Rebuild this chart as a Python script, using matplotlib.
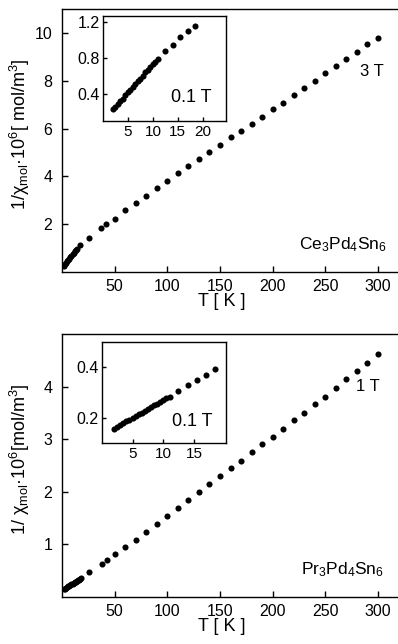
import matplotlib
matplotlib.use('Agg')
import matplotlib.pyplot as plt

plt.rcParams['font.family'] = ['Liberation Sans', 'DejaVu Sans']
plt.rcParams['mathtext.fontset'] = 'custom'
plt.rcParams['mathtext.rm'] = 'Liberation Sans'
plt.rcParams['mathtext.it'] = 'Liberation Sans:italic'

# Ce3Pd4Sn6, 3 T (main) and 0.1 T (inset)
ce_T = [2, 3, 4, 5, 6, 7, 8, 9, 10, 11, 12, 13, 14, 17.5, 25.6, 36.7, 42, 50, 60, 70, 80,
        90, 100, 110, 120, 130, 140, 150, 160, 170, 180, 190, 200, 210, 220, 230, 240,
        250, 260, 270, 280, 290, 300]
ce_inv = [0.26, 0.32, 0.38, 0.44, 0.50, 0.56, 0.62, 0.68, 0.74, 0.80, 0.86, 0.92, 0.98,
          1.14, 1.43, 1.83, 2.0, 2.2, 2.58, 2.89, 3.18, 3.5, 3.8, 4.12, 4.42, 4.74, 5.01,
          5.3, 5.64, 5.89, 6.2, 6.5, 6.82, 7.07, 7.39, 7.68, 7.99, 8.32, 8.6, 8.92, 9.22,
          9.53, 9.8]
ce_T_low = [2.0, 2.5, 3.0, 3.5, 4.0, 4.5, 5.0, 5.5, 6.0, 6.5, 7.0, 7.5, 8.0, 8.5, 9.0,
            9.5, 10.0, 10.5, 11.0, 12.5, 14.0, 15.5, 17.0, 18.4]
ce_inv_low = [0.23, 0.26, 0.29, 0.32, 0.35, 0.39, 0.42, 0.45, 0.48, 0.51, 0.54, 0.57,
              0.60, 0.64, 0.67, 0.70, 0.73, 0.76, 0.79, 0.88, 0.95, 1.03, 1.10, 1.16]

# Pr3Pd4Sn6, 1 T (main) and 0.1 T (inset)
pr_T = [2, 3, 4, 5, 6, 7, 8, 9, 10, 11, 12, 13, 14, 15, 16, 17, 18, 26, 38, 42.7, 50, 60,
        70, 80, 90, 100, 110, 120, 130, 140, 150, 160, 170, 180, 190, 200, 210, 220, 230,
        240, 250, 260, 270, 280, 290, 300]
pr_inv = [0.15, 0.16, 0.17, 0.19, 0.20, 0.21, 0.23, 0.24, 0.25, 0.27, 0.28, 0.29, 0.31,
          0.32, 0.33, 0.34, 0.36, 0.47, 0.63, 0.70, 0.81, 0.95, 1.09, 1.23, 1.39, 1.54,
          1.69, 1.84, 1.99, 2.14, 2.30, 2.45, 2.59, 2.75, 2.90, 3.05, 3.20, 3.36, 3.50,
          3.66, 3.81, 3.97, 4.14, 4.29, 4.45, 4.62]
pr_T_low = [2.0, 2.5, 3.0, 3.5, 4.0, 4.5, 5.0, 5.5, 6.0, 6.5, 7.0, 7.5, 8.0, 8.5, 9.0,
            9.5, 10.0, 10.5, 11.0, 12.4, 14.0, 15.4, 16.9, 18.4]
pr_inv_low = [0.158, 0.165, 0.172, 0.179, 0.186, 0.193, 0.200, 0.207, 0.214, 0.221,
              0.228, 0.235, 0.242, 0.249, 0.256, 0.263, 0.270, 0.277, 0.284, 0.304,
              0.328, 0.350, 0.370, 0.393]

T_ticks = [50, 100, 150, 200, 250, 300]
ylab_ce = '1/χ$_{\\mathrm{mol}}$·10$^6$[ mol/m$^3$]'
ylab_pr = '1/ χ$_{\\mathrm{mol}}$·10$^6$[mol/m$^3$]'

W, H = 398, 644
fig = plt.figure(figsize=(W / 100, H / 100), dpi=100, facecolor='white')


def fx(px):
    return px / W


def fy(py):
    return 1 - py / H


def style(ax, size=11, pad=5, length=4):
    ax.tick_params(direction='in', length=length, width=1, labelsize=size, pad=pad,
                   colors='black')
    for s in ax.spines.values():
        s.set_linewidth(1)


def main_panel(top, bot, T, inv, ylim, yticks, ylab, field, field_xy, comp, comp_x):
    ax = fig.add_axes([fx(62), fy(bot), fx(W - 62), fy(top) - fy(bot)])
    ax.plot(T, inv, 'o', color='black', ms=4.4, mec='none')
    ax.set_xlim(0, 319)
    ax.set_ylim(*ylim)
    ax.set_xticks(T_ticks)
    ax.set_yticks(yticks)
    ax.spines['right'].set_visible(False)
    style(ax, size=11.5)
    ax.tick_params(axis='y', pad=7)
    ax.set_xlabel('T [ K ]', fontsize=13)
    ax.xaxis.set_label_coords(0.475, -0.08)
    ax.set_ylabel(ylab, fontsize=13)
    ax.yaxis.set_label_coords(-0.088, 0.525)
    ax.text(field_xy[0], field_xy[1], field, fontsize=12, transform=ax.transAxes,
            ha='center', va='center')
    ax.text(comp_x, 0.105, comp, fontsize=12.5, transform=ax.transAxes,
            ha='right', va='center')
    return ax


def inset(l, r, t, b, T, inv, xlim, ylim, xticks, yticks, lab_xy):
    ax = fig.add_axes([fx(l), fy(b), fx(r - l), fy(t) - fy(b)])
    ax.plot(T, inv, 'o', color='black', ms=4.4, mec='none')
    ax.set_xlim(*xlim)
    ax.set_ylim(*ylim)
    ax.set_xticks(xticks)
    ax.set_yticks(yticks)
    ax.set_yticklabels(['%.1f' % v for v in yticks])
    style(ax, size=11.5, pad=2, length=3)
    ax.tick_params(axis='x', pad=3, labelsize=11)
    ax.text(lab_xy[0], lab_xy[1], '0.1 T', fontsize=13, transform=ax.transAxes,
            ha='center', va='center')
    return ax


main_panel(9, 272, ce_T, ce_inv, (0, 11), [2, 4, 6, 8, 10], ylab_ce, '3 T',
           (0.922, 0.762), 'Ce$_3$Pd$_4$Sn$_6$', 0.967)
inset(103, 225.7, 15.7, 121, ce_T_low, ce_inv_low, (0, 24.6), (0.1, 1.27),
      [5, 10, 15, 20], [0.4, 0.8, 1.2], (0.717, 0.225))

main_panel(334, 597, pr_T, pr_inv, (0, 5), [1, 2, 3, 4], ylab_pr, '1 T',
           (0.911, 0.80), 'Pr$_3$Pd$_4$Sn$_6$', 0.958)
inset(101.7, 225.7, 341.7, 443.3, pr_T_low, pr_inv_low, (0, 20.1), (0.1, 0.5),
      [5, 10, 15], [0.2, 0.4], (0.732, 0.21))

fig.savefig('out.png', dpi=100, facecolor='white')
